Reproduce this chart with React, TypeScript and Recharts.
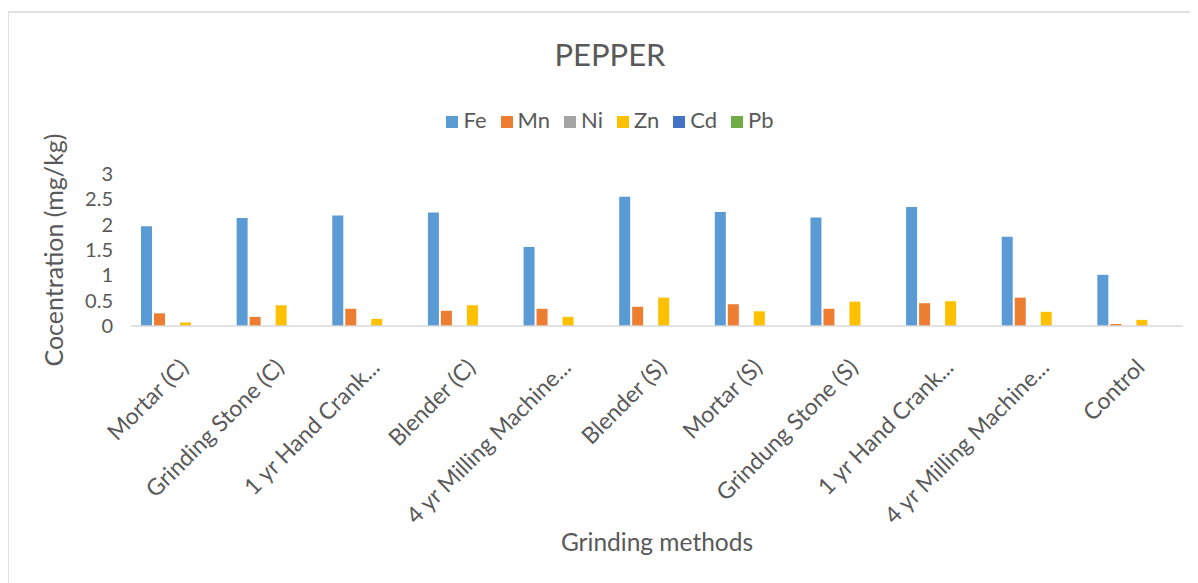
import { BarChart, Bar, XAxis, YAxis, Legend, Label } from "recharts";

const methods = [
  "Mortar (C)",
  "Grinding Stone (C)",
  "1 yr Hand Crank...",
  "Blender (C)",
  "4 yr Milling Machine...",
  "Blender (S)",
  "Mortar (S)",
  "Grindung Stone (S)",
  "1 yr Hand Crank...",
  "4 yr Milling Machine...",
  "Control",
];

const fe = [1.97, 2.13, 2.18, 2.24, 1.56, 2.55, 2.25, 2.14, 2.35, 1.76, 1.01];
const mn = [0.25, 0.18, 0.34, 0.3, 0.34, 0.38, 0.43, 0.34, 0.45, 0.56, 0.04];
const ni = [0, 0, 0, 0, 0, 0, 0, 0, 0, 0, 0];
const zn = [0.07, 0.41, 0.14, 0.41, 0.18, 0.56, 0.29, 0.48, 0.49, 0.28, 0.12];
const cd = [0, 0, 0, 0, 0, 0, 0, 0, 0, 0, 0];
const pb = [0, 0, 0, 0, 0, 0, 0, 0, 0, 0, 0];

const yTicks = [0, 0.5, 1, 1.5, 2, 2.5, 3];

const series = [
  { key: "Fe", color: "#5B9BD5" },
  { key: "Mn", color: "#ED7D31" },
  { key: "Ni", color: "#A5A5A5" },
  { key: "Zn", color: "#FFC000" },
  { key: "Cd", color: "#4472C4" },
  { key: "Pb", color: "#70AD47" },
];

const data = methods.map((method, i) => ({
  method,
  Fe: fe[i],
  Mn: mn[i],
  Ni: ni[i],
  Zn: zn[i],
  Cd: cd[i],
  Pb: pb[i],
}));

const FONT = 'Lato, "Open Sans", sans-serif';
const TEXT = "#595959";
const W = 1202;
const H = 575;

// keep legend entries in series order instead of alphabetical
const legendOrder = (item: any) => series.findIndex((s) => s.key === item.dataKey);

function MethodTick({ x, y, payload }: any) {
  return (
    <g transform={`translate(${x + 11},${y + 43})`}>
      <text
        textAnchor="end"
        transform="rotate(-45)"
        fill={TEXT}
        fontSize={23}
        fontFamily={FONT}
      >
        {payload.value}
      </text>
    </g>
  );
}

export default function App() {
  return (
    <div
      style={{
        position: "relative",
        marginLeft: -1,
        marginTop: 3,
        width: W,
        height: H,
        border: "2px solid #e2e2e2",
        background: "#fff",
        fontFamily: FONT,
      }}
    >
      <style>{`body{overflow:hidden}
.recharts-legend-item{margin-right:14px !important}
.recharts-legend-item:last-child{margin-right:0 !important}
.recharts-legend-item svg{margin-right:5px !important}`}</style>
      <div
        style={{
          position: "absolute",
          top: 26,
          left: 0,
          width: W,
          textAlign: "center",
          fontSize: 31,
          lineHeight: "31px",
          color: TEXT,
        }}
      >
        PEPPER
      </div>
      <BarChart
        width={W}
        height={H}
        data={data}
        margin={{ top: 161, right: 28, bottom: 0, left: 0 }}
        barCategoryGap={10}
        barGap={2}
      >
        <XAxis
          dataKey="method"
          interval={0}
          height={262}
          tickSize={0}
          tickMargin={0}
          tick={<MethodTick />}
          axisLine={{ stroke: "#d9d9d9", strokeWidth: 1.5 }}
        >
          <Label
            value="Grinding methods"
            position="insideBottom"
            offset={37}
            fill={TEXT}
            fontSize={24.5}
            fontFamily={FONT}
          />
        </XAxis>
        <YAxis
          width={122}
          domain={[0, 3]}
          ticks={yTicks}
          interval={0}
          tickSize={0}
          tickMargin={18}
          axisLine={false}
          tick={{ fill: TEXT, fontSize: 20, fontFamily: FONT }}
        >
          <Label
            value="Cocentration (mg/kg)"
            angle={-90}
            position="center"
            dx={-16}
            fill={TEXT}
            fontSize={25}
            fontFamily={FONT}
          />
        </YAxis>
        <Legend
          verticalAlign="middle"
          align="center"
          layout="horizontal"
          iconType="square"
          iconSize={12}
          itemSorter={legendOrder}
          wrapperStyle={{ top: 93, left: 0, width: W, fontSize: 22, fontFamily: FONT }}
          formatter={(value: string) => <span style={{ color: TEXT }}>{value}</span>}
        />
        {series.map((s) => (
          <Bar key={s.key} dataKey={s.key} fill={s.color} isAnimationActive={false} />
        ))}
      </BarChart>
    </div>
  );
}
